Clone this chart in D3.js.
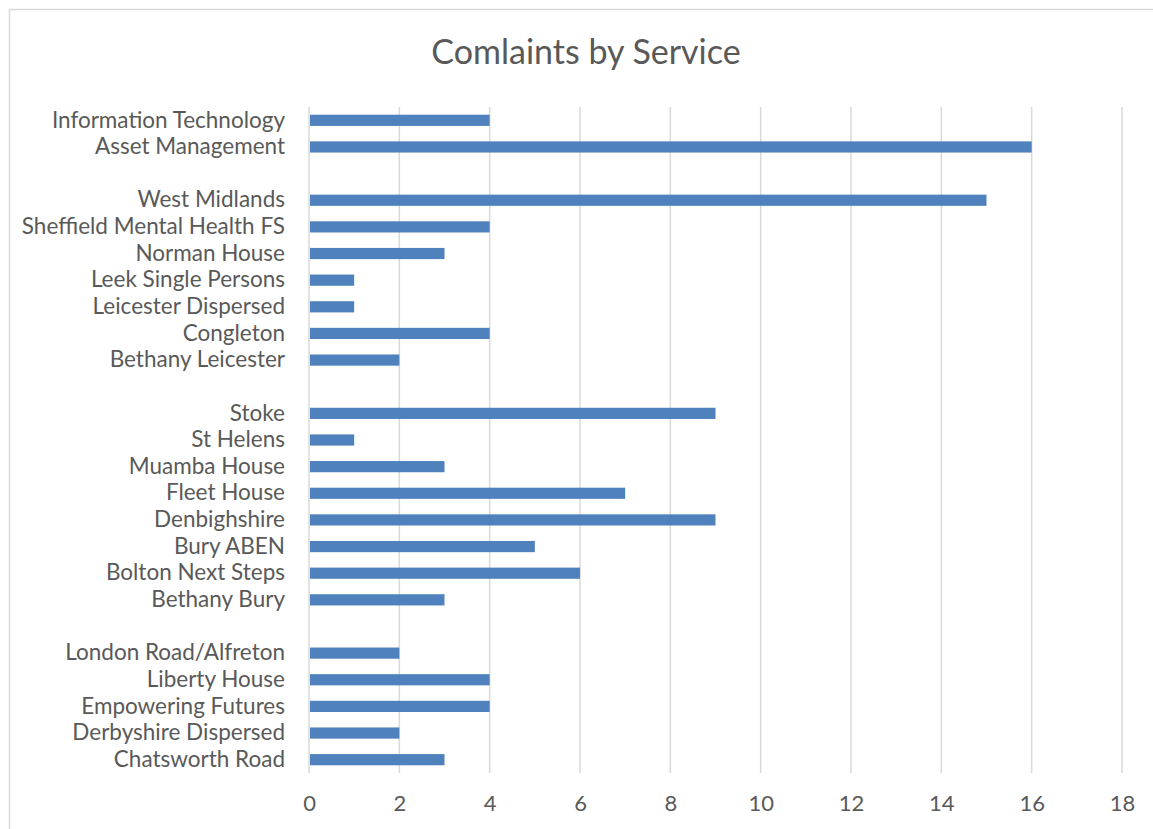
<!DOCTYPE html>
<html lang="en">
<head>
    <script src="https://d3js.org/d3.v7.min.js"></script>
    <title>Comlaints by Service</title>
    <style>
        body { margin: 0; background: #fff; }
        text { font-family: Lato, "Noto Sans", sans-serif; fill: #595959; }
    </style>
</head>
<body>
    <div id="container"></div>
    <script>
        // categories top to bottom; "" = spacer rows between groups
        const services = ["Information Technology", "Asset Management", "",
            "West Midlands", "Sheffield Mental Health FS", "Norman House", "Leek Single Persons",
            "Leicester Dispersed", "Congleton", "Bethany Leicester", "",
            "Stoke", "St Helens", "Muamba House", "Fleet House", "Denbighshire", "Bury ABEN",
            "Bolton Next Steps", "Bethany Bury", "",
            "London Road/Alfreton", "Liberty House", "Empowering Futures", "Derbyshire Dispersed", "Chatsworth Road"];
        const complaints = [4, 16, null,
            15, 4, 3, 1, 1, 4, 2, null,
            9, 1, 3, 7, 9, 5, 6, 3, null,
            2, 4, 4, 2, 3];
        const xTicks = [0, 2, 4, 6, 8, 10, 12, 14, 16, 18];

        const W = 1153, H = 829;
        const plot = {left: 309, right: 1122, top: 107, bottom: 773};

        const svg = d3.select("#container").append("svg").attr("width", W).attr("height", H);

        // chart frame
        svg.append("rect").attr("x", 9.5).attr("y", 9.5).attr("width", W + 10).attr("height", H + 10)
           .attr("fill", "none").attr("stroke", "#d9d9d9").attr("stroke-width", 1.5);

        svg.append("text").attr("x", 586).attr("y", 64).attr("text-anchor", "middle")
           .style("font-size", "34px").text("Comlaints by Service");

        const xScale = d3.scaleLinear().domain([0, 18]).range([plot.left, plot.right]);
        const yScale = d3.scaleBand().domain(d3.range(services.length)).range([plot.top, plot.bottom]).paddingInner(0.58).paddingOuter(0.29);

        // gridlines
        svg.append("g").selectAll("line").data(xTicks).enter().append("line")
           .attr("x1", d => xScale(d)).attr("x2", d => xScale(d))
           .attr("y1", plot.top).attr("y2", plot.bottom)
           .attr("stroke", "#d9d9d9").attr("stroke-width", 1.5);

        svg.selectAll("rect.bar").data(complaints.map((v, i) => ({v, i})).filter(d => d.v != null))
           .enter().append("rect").attr("class", "bar")
           .attr("x", xScale(0) + 1)
           .attr("y", d => yScale(d.i))
           .attr("width", d => xScale(d.v) - xScale(0) - 1)
           .attr("height", yScale.bandwidth())
           .attr("fill", "#4f81bd");

        const yAxis = d3.axisLeft(yScale).tickSize(0).tickPadding(24).tickFormat(i => services[i]);
        svg.append("g").attr("transform", "translate(" + plot.left + ",0)").call(yAxis)
           .call(g => g.select(".domain").remove())
           .selectAll("text").style("font-size", "22.5px");

        const xAxis = d3.axisBottom(xScale).tickValues(xTicks).tickSize(0).tickPadding(22);
        svg.append("g").attr("transform", "translate(0," + plot.bottom + ")").call(xAxis)
           .call(g => g.select(".domain").remove())
           .selectAll("text").style("font-size", "22px");
    </script>
</body>
</html>
